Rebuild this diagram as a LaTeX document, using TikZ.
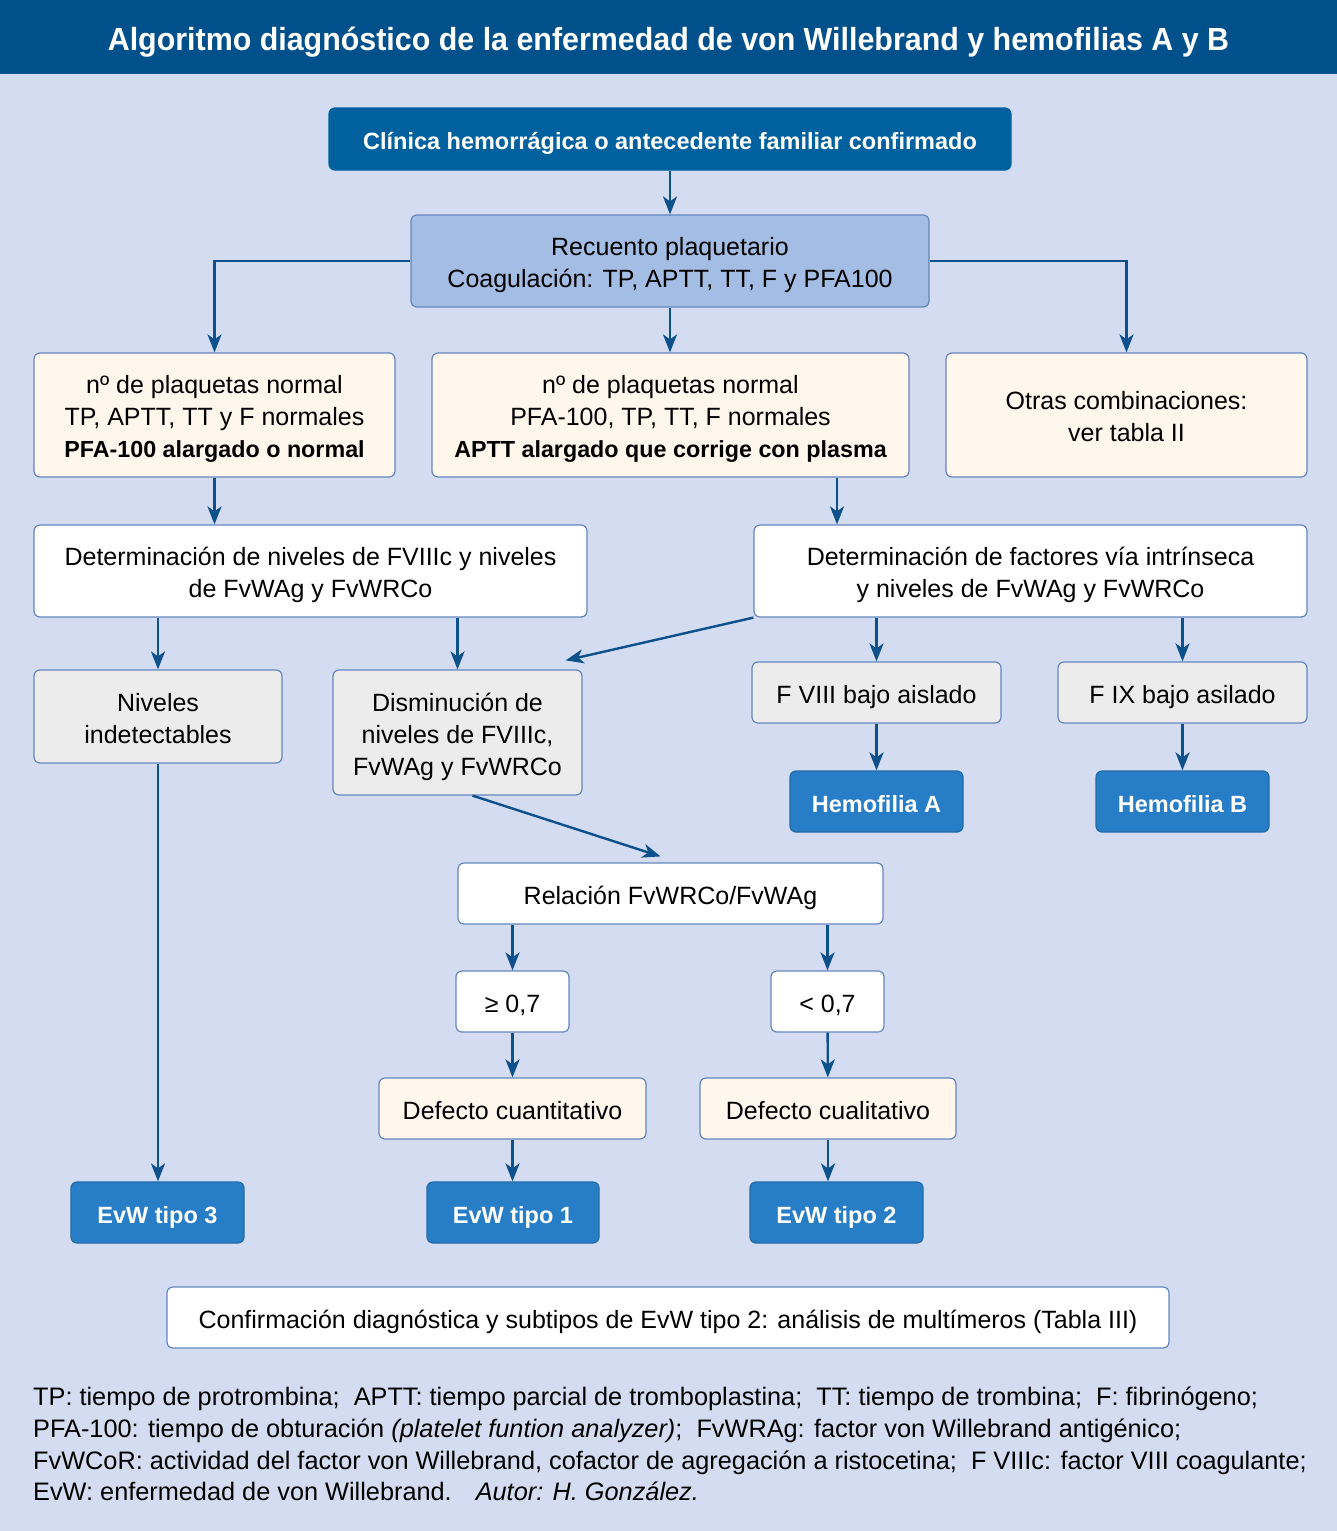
\documentclass[tikz,border=0pt]{standalone}
\usepackage{fontspec}
\setmainfont{Liberation Sans}
\newfontfamily\titlefont[FakeStretch=0.95]{Liberation Sans}
\usetikzlibrary{arrows.meta}
\definecolor{titlebar}{RGB}{0,80,140}
\definecolor{bgfill}{RGB}{211,220,241}
\definecolor{darkbox}{RGB}{0,97,158}
\definecolor{lightbox}{RGB}{164,189,228}
\definecolor{boxline}{RGB}{100,135,190}
\definecolor{creamfill}{RGB}{255,246,236}
\definecolor{greyfill}{RGB}{236,236,236}
\definecolor{resultblue}{RGB}{40,126,198}
\definecolor{arrowblue}{RGB}{12,80,140}
\newcommand\negrita[1]{{\bfseries\fontsize{23.3}{32}\selectfont #1}}
\newcommand\tope{\rule{0pt}{27pt}}

\begin{document}
\begin{tikzpicture}[x=1pt,y=-1pt]
      \tikzset{
        every node/.style={inner sep=0pt,align=center,font=\fontsize{25}{32}\selectfont},
        box/.style={draw=boxline,line width=1.2pt,rounded corners=6pt,fill=white,
          execute at begin node={\rule{0pt}{27pt}},
          execute at end node={\rule[-5.5pt]{0pt}{0pt}}},
        cream/.style={box,fill=creamfill},
        grey/.style={box,fill=greyfill},
        result/.style={box,fill=resultblue,draw=resultblue!85!black,text=white,
          font=\bfseries\fontsize{23.5}{32}\selectfont},
        arr/.style={-{Stealth[length=18pt,width=14pt,inset=5pt]},line width=2.4pt,draw=arrowblue}
      }

      \useasboundingbox (0,0) rectangle (1337,1531);
      \fill[bgfill] (0,0) rectangle (1337,1531);
      \fill[titlebar] (0,0) rectangle (1337,74);

      \node[text=white,font=\titlefont\bfseries\fontsize{32}{36}\selectfont] (title) at (668.5,42)
        {Algoritmo diagnóstico de la enfermedad de von Willebrand y hemofilias A y B};

      \node[result,fill=darkbox,draw=darkbox,minimum width=682,minimum height=62] (clinica) at (670,139)
        {Clínica hemorrágica o antecedente familiar confirmado};
      \node[box,fill=lightbox,minimum width=518,minimum height=92] (recuento) at (670,261)
        {\tope Recuento plaquetario\\Coagulación: TP, APTT, TT, F y PFA100};

      \node[cream,minimum width=361,minimum height=124] (plqA) at (214.5,415)
        {\tope nº de plaquetas normal\\TP, APTT, TT y F normales\\\negrita{PFA-100 alargado o normal}};
      \node[cream,minimum width=477,minimum height=124] (plqB) at (670.5,415)
        {\tope nº de plaquetas normal\\PFA-100, TP, TT, F normales\\\negrita{APTT alargado que corrige con plasma}};
      \node[cream,minimum width=361,minimum height=124] (otras) at (1126.5,415)
        {\tope Otras combinaciones:\\ver tabla II};

      \node[box,minimum width=553,minimum height=92] (detA) at (310.5,571)
        {\tope Determinación de niveles de FVIIIc y niveles\\de FvWAg y FvWRCo};
      \node[box,minimum width=553,minimum height=92] (detB) at (1030.5,571)
        {\tope Determinación de factores vía intrínseca\\y niveles de FvWAg y FvWRCo};

      \node[grey,minimum width=248,minimum height=93] (niveles) at (158,716.5)
        {\tope Niveles\\indetectables};
      \node[grey,minimum width=249,minimum height=125] (dism) at (457.5,732.5)
        {\tope Disminución de\\niveles de FVIIIc,\\FvWAg y FvWRCo};
      \node[grey,minimum width=249,minimum height=61] (fviii) at (876.5,692.5) {F VIII bajo aislado};
      \node[grey,minimum width=249,minimum height=61] (fix) at (1182.5,692.5) {F IX bajo asilado};

      \node[result,minimum width=173,minimum height=61] (hemA) at (876.5,801.5) {Hemofilia A};
      \node[result,minimum width=173,minimum height=61] (hemB) at (1182.5,801.5) {Hemofilia B};

      \node[box,minimum width=425,minimum height=61] (rel) at (670.5,893.5) {Relación FvWRCo/FvWAg};
      \node[box,minimum width=113,minimum height=61] (mayor) at (512.5,1001.5) {≥ 0,7};
      \node[box,minimum width=113,minimum height=61] (menor) at (827.5,1001.5) {< 0,7};
      \node[cream,minimum width=267,minimum height=61] (cuant) at (512.5,1108.5) {Defecto cuantitativo};
      \node[cream,minimum width=256,minimum height=61] (cual) at (828,1108.5) {Defecto cualitativo};

      \node[result,minimum width=173,minimum height=61] (tipo3) at (157.5,1212.5) {EvW tipo 3};
      \node[result,minimum width=172,minimum height=61] (tipo1) at (513,1212.5) {EvW tipo 1};
      \node[result,minimum width=173,minimum height=61] (tipo2) at (836.5,1212.5) {EvW tipo 2};

      \node[box,minimum width=1002,minimum height=61] (conf) at (668,1317.5)
        {Confirmación diagnóstica y subtipos de EvW tipo 2: análisis de multímeros (Tabla III)};

      \node[anchor=north west,align=left,font=\fontsize{25.3}{31.7}\selectfont] (notas) at (33,1387)
        {TP: tiempo de protrombina;\ \ APTT: tiempo parcial de tromboplastina;\ \ TT: tiempo de trombina;\ \ F: fibrinógeno;\\
         PFA-100: tiempo de obturación \textit{(platelet funtion analyzer)};\ \ FvWRAg: factor von Willebrand antigénico;\\
         FvWCoR: actividad del factor von Willebrand, cofactor de agregación a ristocetina;\ \ F VIIIc: factor VIII coagulante;\\
         EvW: enfermedad de von Willebrand.\hspace{24pt}\textit{Autor: H. González.}};

      \draw[arr] (clinica) -- (recuento);
      \draw[arr] (recuento.west) -| (plqA.north);
      \draw[arr] (recuento.east) -| (otras.north);
      \draw[arr] (recuento.south) -- (recuento.south |- plqB.north);
      \draw[arr] (plqA) -- (plqA |- detA.north);
      \draw[arr] ([xshift=166.5pt]plqB.south) -- ([xshift=166.5pt]plqB.south |- detB.north);
      \draw[arr] (niveles.north |- detA.south) -- (niveles);
      \draw[arr] (dism.north |- detA.south) -- (dism);
      \draw[arr] (detB.south west) -- ([shift={(-17,-9)}]dism.north east);
      \draw[arr] (fviii.north |- detB.south) -- (fviii);
      \draw[arr] (fix.north |- detB.south) -- (fix);
      \draw[arr] (fviii) -- (hemA);
      \draw[arr] (fix) -- (hemB);
      \draw[arr] ([xshift=15pt]dism.south) -- ([shift={(-10,-6)}]rel.north);
      \draw[arr] (mayor.north |- rel.south) -- (mayor);
      \draw[arr] (menor.north |- rel.south) -- (menor);
      \draw[arr] (mayor) -- (cuant);
      \draw[arr] (menor) -- (cual);
      \draw[arr] (cuant.south) -- (cuant.south |- tipo1.north);
      \draw[arr] (cual.south) -- (cual.south |- tipo2.north);
      \draw[arr] (niveles) -- (niveles |- tipo3.north);
    \end{tikzpicture}
\end{document}
